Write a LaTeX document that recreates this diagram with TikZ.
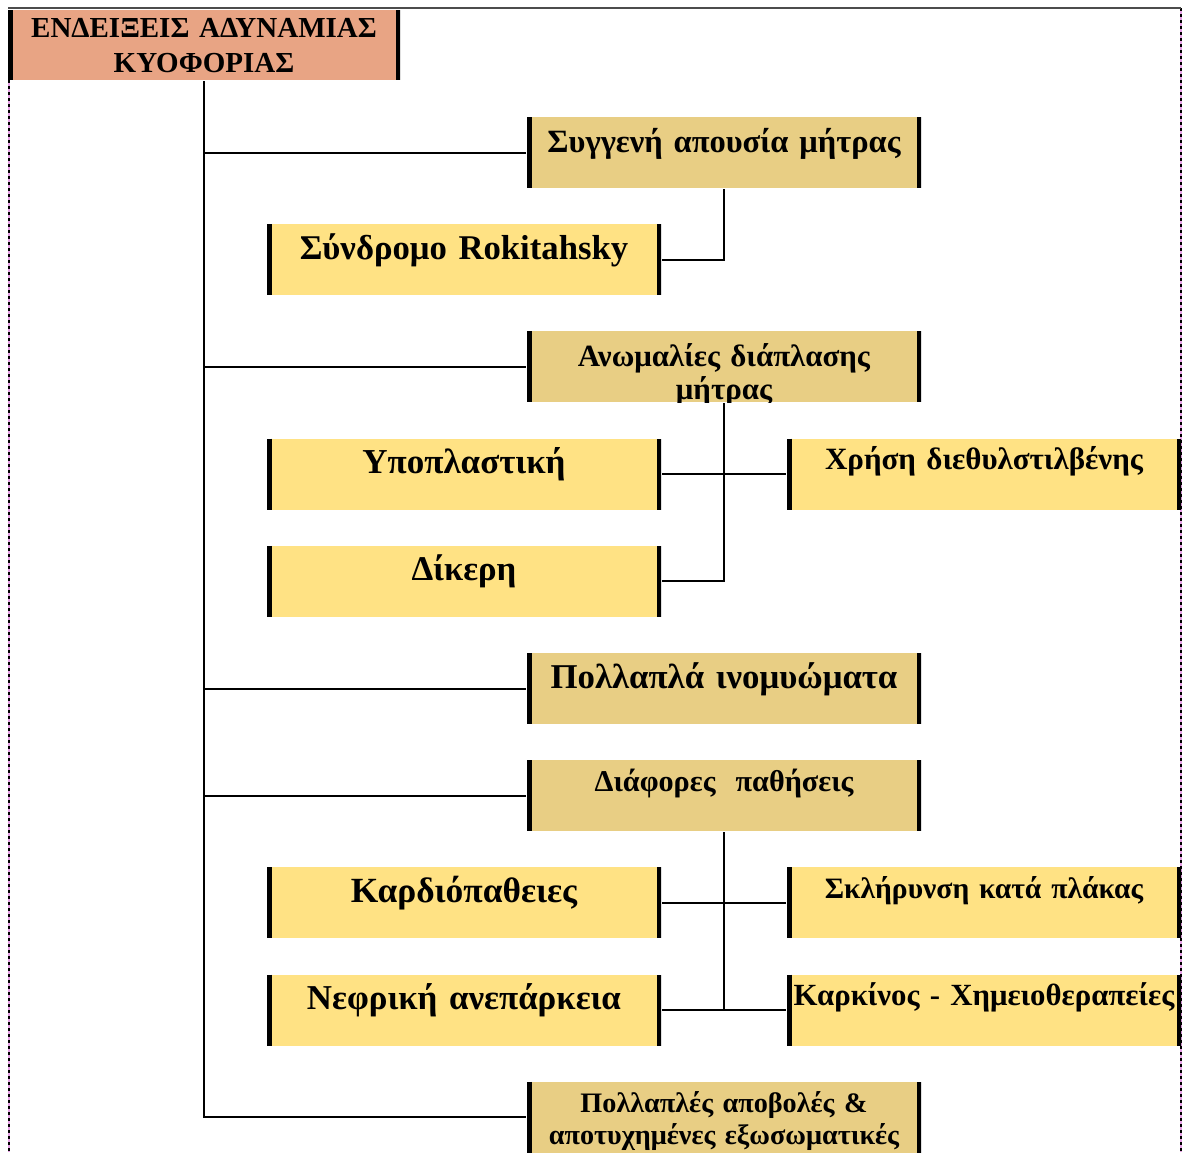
\documentclass[tikz,border=0pt]{standalone}
\usepackage{fontspec}
\setmainfont{Liberation Serif}
\definecolor{salmon}{HTML}{E8A484}
\definecolor{tanbox}{HTML}{E8CE84}
\definecolor{paleyel}{HTML}{FFE284}
\definecolor{frmpink}{HTML}{E8A0E8}

\begin{document}
\begin{tikzpicture}[x=1pt,y=-1pt,node distance=107.2pt,line width=2pt,
    box/.style={rectangle,inner sep=0pt,text width=394pt,align=center,
      text height=35pt,text depth=36pt,
      path picture={\draw[line width=9pt]
        (path picture bounding box.north west) -- (path picture bounding box.south west)
        (path picture bounding box.north east) -- (path picture bounding box.south east);}},
    mid box/.style={box,fill=tanbox},
    side box/.style={box,fill=paleyel},
    low/.style={text height=31pt,text depth=40pt},
    fsz/.style 2 args={font=\fontsize{#1}{#2}\selectfont\bfseries}]

  \useasboundingbox (0,0) rectangle (1184,1152);

  % frame
  \draw[frmpink,line width=1.5pt] (9,80) -- (9,1152) (1181,8) -- (1181,1152);
  \draw[line width=1.5pt,dash pattern=on 3pt off 3pt] (9,80) -- (9,1152) (1181,8) -- (1181,1152);
  \draw[black!70] (8,8) -- (1181,8);

  \node[box,fill=salmon,text width=392pt,text height=27pt,text depth=43pt,fsz={29}{35}]
    (title) at (204,45) {ΕΝΔΕΙΞΕΙΣ ΑΔΥΝΑΜΙΑΣ\\ΚΥΟΦΟΡΙΑΣ};

  \node[mid box,fsz={32.5}{33}] (congen) at (724,152.5) {Συγγενή απουσία μήτρας};
  \node[side box,fsz={34.7}{33}] (rokit) [below of=congen,xshift=-260pt] {Σύνδρομο Rokitahsky};
  \node[mid box,fsz={30.9}{33}] (anomal) [below of=rokit,xshift=260pt] {Ανωμαλίες διάπλασης\\μήτρας};
  \fill[white] (anomal.south west) rectangle ([yshift=-14pt]anomal.south east);
  \node[side box,fsz={35}{33}] (hypo) [below of=anomal,xshift=-260pt] {Υποπλαστική};
  \node[side box,low,fsz={31}{33}] (des) [right of=hypo,node distance=520pt] {Χρήση διεθυλστιλβένης};
  \node[side box,fsz={34.7}{33}] (dikeri) [below of=hypo] {Δίκερη};
  \node[mid box,fsz={34.8}{33}] (fibroid) [below of=dikeri,xshift=260pt] {Πολλαπλά ινομυώματα};
  \node[mid box,low,fsz={30.2}{33}] (disease) [below of=fibroid] {Διάφορες\ \ παθήσεις};
  \node[side box,fsz={35.4}{33}] (cardio) [below of=disease,xshift=-260pt] {Καρδιόπαθειες};
  \node[side box,low,fsz={29.6}{33}] (sclero) [right of=cardio,node distance=520pt] {Σκλήρυνση κατά πλάκας};
  \node[side box,fsz={34.9}{33}] (renal) [below of=cardio] {Νεφρική ανεπάρκεια};
  \node[side box,low,fsz={30.8}{33}] (cancer) [right of=renal,node distance=520pt] {Καρκίνος - Χημειοθεραπείες};
  \node[mid box,low,fsz={28.2}{32}] (ivf) [below of=renal,xshift=260pt] {Πολλαπλές αποβολές \&\\αποτυχημένες εξωσωματικές};

  % trunk
  \draw (title.south) |- (congen.west);
  \draw (title.south) |- (anomal.west);
  \draw (title.south) |- (fibroid.west);
  \draw (title.south) |- (disease.west);
  \draw (title.south) |- (ivf.west);

  % branches
  \draw (congen.south) |- (rokit.east);
  \draw (anomal.south) |- (dikeri.east);
  \draw (hypo.east) -- (des.west);
  \draw (disease.south) |- (renal.east);
  \draw (cardio.east) -- (sclero.west);
  \draw (renal.east) -- (cancer.west);
\end{tikzpicture}
\end{document}
